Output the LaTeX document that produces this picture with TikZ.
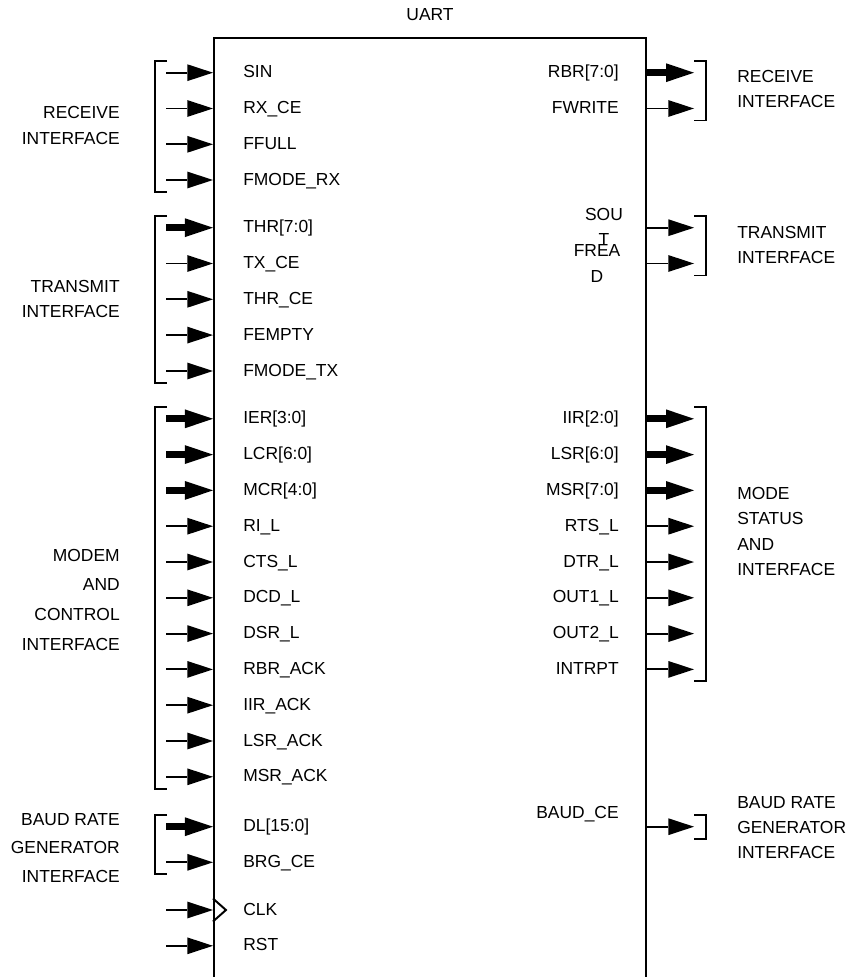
\documentclass[tikz,border=0pt]{standalone}
\usepackage{fontspec}
\setmainfont{Liberation Sans}
\usetikzlibrary{arrows.meta, positioning, calc}

\begin{document}
\begin{tikzpicture}[x=0.025cm, y=-0.025cm,
    font=\fontsize{12.4}{17.8}\selectfont,
    wire/.style={line width=1.4pt,
      -{Triangle[length=0.64cm, width=0.42cm, line width=0pt]}},
    bus/.style={line width=5pt,
      -{Triangle[length=0.7cm, width=0.47cm, line width=0pt]}},
    sig/.style={inner sep=0pt, text height=0.716em, text depth=0pt},
    grp/.style={inner sep=0pt},
    brk/.style={line width=1.4pt}]
  \useasboundingbox (0,0) rectangle (849,977);
  \clip (0,0) rectangle (849,977);

  % the block, open at the bottom of the page
  \node[draw, line width=1.4pt, minimum width=10.8cm, minimum height=23.9cm,
        anchor=north] (uart) at (430,37) {};
  \node (title) at (430,15) {UART};

  % inputs
  \foreach \n/\y/\t/\k in {sin/72.7/SIN/wire, rxce/108.5/RX\_CE/wire,
      ffull/144.3/FFULL/wire, fmoderx/180/FMODE\_RX/wire,
      thr/227.7/THR[7:0]/bus, txce/263.5/TX\_CE/wire,
      thrce/299.3/THR\_CE/wire, fempty/335.1/FEMPTY/wire,
      fmodetx/371/FMODE\_TX/wire,
      ier/418.8/IER[3:0]/bus, lcr/454.6/LCR[6:0]/bus, mcr/490.4/MCR[4:0]/bus,
      ril/526.2/RI\_L/wire, ctsl/562/CTS\_L/wire, dcdl/597.8/DCD\_L/wire,
      dsrl/633.6/DSR\_L/wire, rbrack/669.4/RBR\_ACK/wire,
      iirack/705.2/IIR\_ACK/wire, lsrack/741/LSR\_ACK/wire,
      msrack/776.8/MSR\_ACK/wire,
      dl/826.7/DL[15:0]/bus, brgce/862.3/BRG\_CE/wire,
      clk/910/CLK/wire, rst/945.8/RST/wire}{
    \node[sig, anchor=west] (\n) at (243,\y) {\t};
    \coordinate (\n-in) at (166,\y);
    \draw[\k] (\n-in) -- (\n-in -| uart.west);
  }

  % outputs
  \foreach \n/\y/\t/\k in {rbr/72.7/RBR[7:0]/bus, fwrite/108.5/FWRITE/wire,
      iir/418.8/IIR[2:0]/bus, lsr/454.6/LSR[6:0]/bus, msr/490.4/MSR[7:0]/bus,
      rtsl/526.2/RTS\_L/wire, dtrl/562/DTR\_L/wire, out1l/597.8/OUT1\_L/wire,
      out2l/633.6/OUT2\_L/wire, intrpt/669.4/INTRPT/wire}{
    \node[sig, anchor=east] (\n) at (619,\y) {\t};
    \coordinate (\n-out) at (694,\y);
    \draw[\k] (\n-out -| uart.east) -- (\n-out);
  }
  \node[grp, align=center] (sout) at (604,226.5) {SOU\\T};
  \node[grp, align=center] (fread) at (597,263.5) {FREA\\D};
  \node[sig, anchor=east] (baudce) at (619,813) {BAUD\_CE};
  \coordinate (sout-out) at (694,227.7);
  \coordinate (fread-out) at (694,263.5);
  \coordinate (baudce-out) at (694,826.7);
  \foreach \n in {sout, fread, baudce}
    \draw[wire] (\n-out -| uart.east) -- (\n-out);

  % clock marker
  \draw[line width=1.4pt] ($(clk-in -| uart.west)+(0,-11.5)$)
    -- ++(13,11.5) -- ++(-13,11.5);

  % group brackets
  \foreach \a/\b in {sin/fmoderx, thr/fmodetx, ier/msrack, dl/brgce}
    \draw[brk] ($(\a-in)+(1,-12)$) -| ($(\b-in)+(-11,12)$) -- ++(12,0);
  \foreach \a/\b in {rbr/fwrite, sout/fread, iir/intrpt, baudce/baudce}
    \draw[brk] ($(\a-out)+(0,-12)$) -| ($(\b-out)+(12,12)$) -- ++(-12,0);

  % group names
  \node[grp, anchor=east, align=right] (rxgrp) at (120,125.5)
    {RECEIVE\\INTERFACE};
  \node[grp, anchor=east, align=right] (txgrp) at (120,299)
    {TRANSMIT\\INTERFACE};
  \node[grp, anchor=east, align=right, font=\fontsize{12.4}{21.1}\selectfont]
    (mcgrp) at (120,599.5) {MODEM\\AND\\CONTROL\\INTERFACE};
  \node[grp, anchor=east, align=right, font=\fontsize{12.4}{20.2}\selectfont]
    (bggrp) at (120,847.7) {BAUD RATE\\GENERATOR\\INTERFACE};
  \node[grp, anchor=west, align=left] (rxgrp-r) at (737,89)
    {RECEIVE\\INTERFACE};
  \node[grp, anchor=west, align=left] (txgrp-r) at (737,245)
    {TRANSMIT\\INTERFACE};
  \node[grp, anchor=west, align=left] (msgrp) at (737,531.5)
    {MODE\\STATUS\\AND\\INTERFACE};
  \node[grp, anchor=west, align=left] (bggrp-r) at (737,827.5)
    {BAUD RATE\\GENERATOR\\INTERFACE};
\end{tikzpicture}
\end{document}
